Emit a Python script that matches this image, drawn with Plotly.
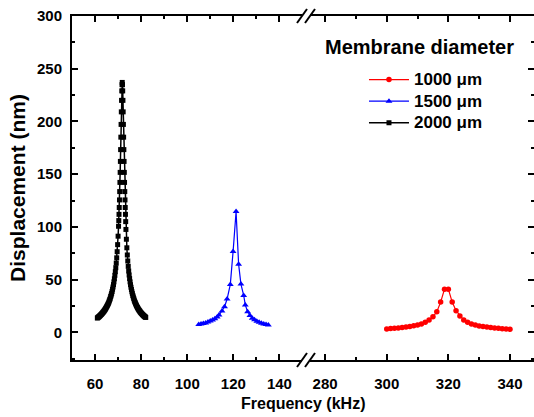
import plotly.graph_objects as go

# ---- data -------------------------------------------------------------
# 2000 um membrane
freq_2000 = [
    61.0, 61.2, 61.4, 61.6, 61.8, 62.0, 62.2, 62.4, 62.6, 62.8,
    63.0, 63.2, 63.4, 63.6, 63.8, 64.0, 64.2, 64.4, 64.6, 64.8,
    65.0, 65.2, 65.4, 65.6, 65.8, 66.0, 66.2, 66.4, 66.6, 66.8,
    67.0, 67.2, 67.4, 67.6, 67.8, 68.0, 68.2, 68.4, 68.6, 68.8,
    69.0, 69.2, 69.4, 69.6, 69.8, 70.0, 70.2,
    70.3, 70.4, 70.5, 70.6, 70.7, 70.8, 70.9, 71.0, 71.1, 71.2,
    71.3, 71.4, 71.5, 71.6, 71.7, 71.8, 71.9, 72.0, 72.1, 72.2,
    72.3, 72.4, 72.5, 72.6, 72.7, 72.8, 72.9, 73.0, 73.1, 73.2, 73.3,
    73.4, 73.6, 73.8, 74.0, 74.2, 74.4, 74.6, 74.8, 75.0, 75.2,
    75.4, 75.6, 75.8, 76.0, 76.2, 76.4, 76.6, 76.8, 77.0, 77.2,
    77.4, 77.6, 77.8, 78.0, 78.2, 78.4, 78.6, 78.8, 79.0, 79.2,
    79.4, 79.6, 79.8, 80.0, 80.2, 80.4, 80.6, 80.8, 81.0, 81.2,
    81.4, 81.6, 81.8, 82.0,
]
disp_2000 = [
    13.6, 14.0, 14.4, 14.7, 15.1, 15.5, 16.0, 16.4, 16.9, 17.3,
    17.8, 18.3, 18.9, 19.4, 19.9, 20.6, 21.2, 21.8, 22.6, 23.4,
    24.2, 25.0, 25.8, 26.7, 27.6, 28.7, 29.9, 31.1, 32.4, 34.0,
    35.4, 37.0, 38.8, 40.9, 43.0, 45.3, 47.9, 50.8, 54.1, 57.5,
    61.3, 65.7, 70.7, 76.5, 83.2, 91.2, 100.6,
    106.0, 111.9, 118.4, 125.6, 133.5, 142.2, 151.7, 162.1, 173.3, 185.1,
    197.2, 209.1, 220.0, 229.0, 234.9, 237.0, 234.9, 229.0, 220.0, 209.1,
    197.2, 185.1, 173.3, 162.1, 151.7, 142.2, 133.5, 125.6, 118.4, 111.9, 105.0,
    97.6, 88.3, 80.2, 73.4, 67.7, 62.6, 58.2, 54.4, 51.0, 47.9,
    45.2, 42.8, 40.6, 38.5, 36.7, 34.9, 33.5, 32.0, 30.6, 29.4,
    28.3, 27.2, 26.2, 25.3, 24.4, 23.6, 22.8, 22.0, 21.4, 20.7,
    20.1, 19.5, 18.9, 18.4, 17.9, 17.4, 16.9, 16.5, 16.1, 15.6,
    15.3, 14.9, 14.5, 14.2,
]

# 1500 um membrane
freq_1500 = [
    105.0, 106.0, 107.0, 108.0, 109.0, 110.0, 111.0, 112.0, 113.0, 113.8,
    115.1, 116.2, 117.3, 118.7, 119.9, 121.2, 122.3, 123.3, 124.5, 125.2,
    126.2, 127.2, 128.2, 129.2, 130.2, 131.2, 132.2, 133.2, 134.2, 135.2,
]
disp_1500 = [
    7.5, 8.0, 8.5, 9.0, 9.8, 10.7, 11.7, 13.0, 14.5, 16.4,
    20.2, 24.3, 31.6, 45.5, 76.6, 114.5, 64.7, 45.8, 35.0, 26.0,
    19.5, 16.0, 13.5, 12.0, 10.5, 9.5, 8.7, 8.0, 7.5, 7.0,
]

# 1000 um membrane
freq_1000 = [
    300.00, 301.25, 302.50, 303.75, 305.00, 306.25, 307.50, 308.75, 310.00,
    311.25, 312.50, 313.75, 315.00, 316.25, 317.50, 318.75, 320.00, 321.25,
    322.50, 323.75, 325.00, 326.25, 327.50, 328.75, 330.00, 331.25, 332.50,
    333.75, 335.00, 336.25, 337.50, 338.75, 340.00,
]
disp_1000 = [
    3.3, 3.6, 3.9, 4.2, 4.6, 5.0, 5.5, 6.2, 7.0,
    8.0, 9.5, 11.7, 14.8, 19.5, 28.7, 41.0, 41.0, 28.7,
    20.5, 15.5, 11.7, 9.5, 8.0, 7.0, 6.1, 5.5, 5.0,
    4.5, 4.1, 3.8, 3.5, 3.2, 2.9,
]

series_names = ["1000 \u03bcm", "1500 \u03bcm", "2000 \u03bcm"]

left_ticks = [60, 80, 100, 120, 140]
right_ticks = [280, 300, 320, 340]
y_ticks = [0, 50, 100, 150, 200, 250, 300]

# ---- layout constants ---------------------------------------------------
FONT = "Liberation Sans, Arial, sans-serif"
Y_RANGE = [-26.2, 300]
LEFT_DOMAIN = [0.0, 0.4978]
RIGHT_DOMAIN = [0.5152, 1.0]


def legend_label(text):
    return f"<span style='font-size:17px'>{text}</span>"


fig = go.Figure()

fig.add_trace(go.Scatter(
    x=freq_1000, y=disp_1000, name=legend_label(series_names[0]),
    xaxis="x2", yaxis="y2", mode="lines+markers",
    line=dict(color="#ff0000", width=1.2),
    marker=dict(symbol="circle", size=5.5, color="#ff0000"),
))
fig.add_trace(go.Scatter(
    x=freq_1500, y=disp_1500, name=legend_label(series_names[1]),
    xaxis="x", yaxis="y", mode="lines+markers",
    line=dict(color="#0000ff", width=1.2),
    marker=dict(symbol="triangle-up", size=6, color="#0000ff"),
))
fig.add_trace(go.Scatter(
    x=freq_2000, y=disp_2000, name=legend_label(series_names[2]),
    xaxis="x", yaxis="y", mode="lines+markers",
    line=dict(color="#000000", width=1.5),
    marker=dict(symbol="square", size=5, color="#000000"),
))

tickfont = dict(family=FONT, size=15, color="black", weight="bold")
common_x = dict(
    showline=True, linecolor="black", linewidth=2, mirror="ticks",
    ticks="inside", ticklen=6, tickwidth=2, tickcolor="black",
    showgrid=False, zeroline=False, tickfont=tickfont,
    ticklabelstandoff=9,
    minor=dict(ticks="inside", ticklen=3, tickwidth=2, tickcolor="black", dtick=10),
)

fig.update_layout(
    width=534, height=417,
    margin=dict(l=72, r=0, t=16, b=57),
    plot_bgcolor="white", paper_bgcolor="white",
    font=dict(family=FONT, color="black"),
    showlegend=True,
    xaxis=dict(
        domain=LEFT_DOMAIN, range=[50, 149.8], anchor="y",
        tickmode="array", tickvals=left_ticks, **common_x,
    ),
    xaxis2=dict(
        domain=RIGHT_DOMAIN, range=[275.1, 347.8], anchor="y",
        tickmode="array", tickvals=right_ticks, **common_x,
    ),
    yaxis=dict(
        range=Y_RANGE, anchor="x", showline=True, linecolor="black", linewidth=2,
        ticks="inside", ticklen=6, tickwidth=2, tickcolor="black",
        tickmode="array", tickvals=y_ticks,
        showgrid=False, zeroline=False, tickfont=tickfont, ticklabelstandoff=5,
        minor=dict(ticks="inside", ticklen=3, tickwidth=2, tickcolor="black", dtick=25),
        title=dict(text="Displacement (nm)", standoff=6,
                   font=dict(family=FONT, size=21, color="black", weight="bold")),
    ),
    yaxis2=dict(
        range=Y_RANGE, overlaying="y", side="right", anchor="x2",
        showline=False, ticks="inside", ticklen=6, tickwidth=2, tickcolor="black",
        tickmode="array", tickvals=y_ticks, showticklabels=False,
        showgrid=False, zeroline=False,
        minor=dict(ticks="inside", ticklen=3, tickwidth=2, tickcolor="black", dtick=25),
    ),
    legend=dict(
        x=0.632, y=0.861, xanchor="left", yanchor="top",
        bgcolor="rgba(0,0,0,0)", borderwidth=0, itemwidth=40,
        font=dict(family=FONT, size=14.3, color="black", weight="bold"),
        tracegroupgap=0,
    ),
)

# shared x-axis title centred below both segments
fig.add_annotation(
    text="Frequency (kHz)", xref="paper", yref="paper",
    x=0.5, y=0, yshift=-43, xanchor="center", yanchor="middle",
    showarrow=False, font=dict(family=FONT, size=16, color="black", weight="bold"),
)
# legend heading
fig.add_annotation(
    text="Membrane diameter", xref="paper", yref="paper",
    x=0.7526, y=0.91, xanchor="center", yanchor="middle",
    showarrow=False, font=dict(family=FONT, size=20, color="black", weight="bold"),
)

# axis-break marks on bottom and top axes
gap_center = (LEFT_DOMAIN[1] + RIGHT_DOMAIN[0]) / 2
for yanchor in (0, 1):
    for dx in (-4, 4):
        fig.add_shape(
            type="line", xref="paper", yref="paper",
            xsizemode="pixel", ysizemode="pixel",
            xanchor=gap_center, yanchor=yanchor,
            x0=dx - 5, x1=dx + 5, y0=-7, y1=7,
            line=dict(color="black", width=2),
        )

fig.write_html("out.html")
